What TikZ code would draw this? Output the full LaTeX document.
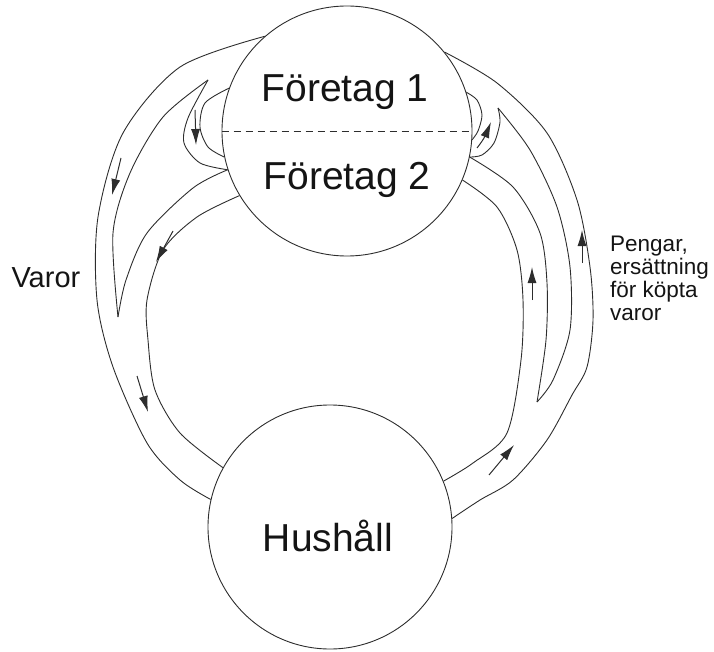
\documentclass[tikz,border=0pt]{standalone}
\usepackage{fontspec}
\setmainfont{Liberation Sans}
\usetikzlibrary{arrows.meta}
\definecolor{pen}{RGB}{45,45,45}
\definecolor{ink}{RGB}{20,20,20}

\begin{document}
\begin{tikzpicture}[
    x=1pt, y=-1pt,
    sector/.style={circle, draw=pen, line width=0.9pt, inner sep=0pt, minimum size=#1},
    title/.style={anchor=base, text=ink, font=\fontsize{39}{44}\selectfont},
    flow/.style={draw=pen, line width=0.9pt},
    arrow/.style={-{Latex[length=16pt,width=9pt]}, draw=pen, line width=1pt}
]
    \useasboundingbox (0,0) rectangle (714,652);

    \node[sector=250pt] (firm) at (347,131) {};
    \node[sector=244pt] (home) at (330,527) {};
    \node[title] (firm1) at (345,102) {Företag 1};
    \node[title] (firm2) at (347,190) {Företag 2};
    \node[title] (house) at (328,551) {Hushåll};
    \draw[flow, dash pattern=on 7pt off 5pt] (firm.west) -- (firm.east);

    \coordinate (lpoint) at (208,80);
    \coordinate (lmerge) at (118,317);
    \coordinate (rpoint) at (498,108);
    \coordinate (rmerge) at (537,402);

    % varor, left side
    \draw[flow] plot[smooth] coordinates {(firm.131) (180,67) (123,133) (98,217) (97,300) (113,367) (147,443) (180,480) (home.167)};
    \draw[flow] plot[smooth] coordinates {(lpoint) (163,117) (130,173) (113,233) (lmerge)};
    \draw[flow] plot[smooth] coordinates {(firm.198) (193,188) (147,233) (126,280) (lmerge)};
    \draw[flow] plot[smooth] coordinates {(firm.211) (197,217) (163,250) (147,300) (148,340) (155,390) (180,433) (home.151)};
    \draw[flow] plot[smooth] coordinates {(lpoint) (188,118) (184,143) (200,163) (firm.198)};
    \draw[flow] plot[smooth] coordinates {(firm.160) (205,103) (200,127) (208,147) (firm.192)};

    % pengar, right side
    \draw[flow] plot[smooth] coordinates {(firm.39) (497,83) (547,133) (577,200) (590,267) (593,320) (587,367) (572,395) (547,440) (513,480) (480,500) (home.4)};
    \draw[flow] plot[smooth] coordinates {(rpoint) (530,150) (557,207) (570,267) (570,330) (553,380) (rmerge)};
    \draw[flow] plot[smooth] coordinates {(firm.348) (513,187) (540,233) (547,283) (546,340) (rmerge)};
    \draw[flow] plot[smooth] coordinates {(firm.337) (497,207) (517,250) (523,300) (521,360) (507,433) (473,463) (home.22)};
    \draw[flow] plot[smooth] coordinates {(rpoint) (500,122) (494,143) (482,155) (firm.348)};
    \draw[flow] plot[smooth] coordinates {(firm.18) (477,100) (482,115) (478,131) (firm.356)};

    \draw[arrow] (195,110) -- (196,145);
    \draw[arrow] (121,158) -- (112,195);
    \draw[arrow] (173,231) -- (156,262);
    \draw[arrow] (137,376) -- (148,412);
    \draw[arrow] plot[smooth] coordinates {(477,148) (484,138) (491,122)};
    \draw[arrow] (582,263) -- (582,230);
    \draw[arrow] (532,300) -- (532,267);
    \draw[arrow] (489,475) -- (514,445);

    \node[anchor=base west, text=ink, font=\fontsize{29}{32}\selectfont] (goods) at (8,287) {Varor};
    \node[anchor=base west, text=ink, align=left, inner sep=0pt, font=\fontsize{22.5}{22.7}\selectfont] (money) at (610,320) {Pengar,\\ersättning\\för köpta\\varor};
\end{tikzpicture}
\end{document}
